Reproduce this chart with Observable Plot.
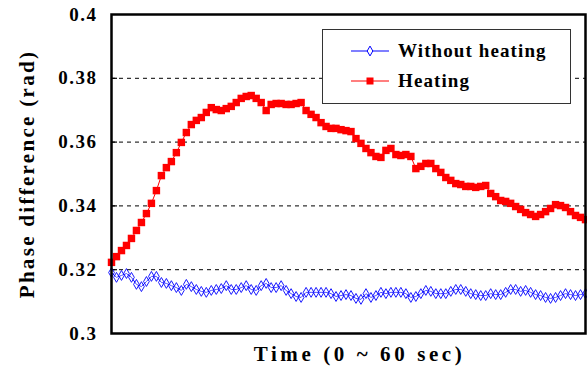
<!DOCTYPE html>
<html>
<head>
<meta charset="utf-8">
<script src="https://cdn.jsdelivr.net/npm/d3@7"></script>
<script src="https://cdn.jsdelivr.net/npm/@observablehq/plot@0.6"></script>
<style>
  body { margin: 0; background: #fff; }
  #wrap { position: relative; width: 587px; height: 376px; font-family: "Liberation Serif", "Times New Roman", serif; }
  #legend { position: absolute; left: 322px; top: 29px; width: 247px; height: 73px; border: 1.5px solid #333; background: #fff; box-sizing: content-box; }
  .item { position: absolute; left: 0; height: 24px; display: flex; align-items: center; }
  .item svg { margin-left: 26px; }
  .item span { margin-left: 7px; font-weight: bold; font-size: 19px; letter-spacing: 1.1px; color: #000; }
</style>
</head>
<body>
<div id="wrap">
  <div id="chart"></div>
  <div id="legend">
    <div class="item" style="top:9px"><svg width="42" height="12" id="sw1"></svg><span>Without heating</span></div>
    <div class="item" style="top:39px"><svg width="42" height="12" id="sw2"></svg><span>Heating</span></div>
  </div>
</div>
<script>
// Series (sampled evenly over 0–60 s)
const seriesNames = ["Without heating", "Heating"];
const seriesColors = ["#0000ff", "#ff0000"];
const withoutHeating = [
  0.3191, 0.3176, 0.3182, 0.3188, 0.3176, 0.3154, 0.3147, 0.3163, 0.3179, 0.3179,
  0.3160, 0.3157, 0.3150, 0.3144, 0.3135, 0.3154, 0.3147, 0.3138, 0.3132, 0.3129,
  0.3135, 0.3138, 0.3141, 0.3150, 0.3138, 0.3138, 0.3144, 0.3150, 0.3138, 0.3135,
  0.3150, 0.3157, 0.3144, 0.3144, 0.3150, 0.3135, 0.3125, 0.3116, 0.3113, 0.3129,
  0.3129, 0.3129, 0.3129, 0.3129, 0.3125, 0.3116, 0.3119, 0.3122, 0.3119, 0.3110,
  0.3107, 0.3125, 0.3113, 0.3119, 0.3129, 0.3125, 0.3129, 0.3129, 0.3129, 0.3125,
  0.3113, 0.3116, 0.3125, 0.3135, 0.3132, 0.3125, 0.3125, 0.3125, 0.3132, 0.3138,
  0.3138, 0.3132, 0.3125, 0.3122, 0.3119, 0.3119, 0.3125, 0.3122, 0.3122, 0.3129,
  0.3138, 0.3138, 0.3132, 0.3135, 0.3129, 0.3122, 0.3119, 0.3113, 0.3110, 0.3113,
  0.3119, 0.3125, 0.3122, 0.3119, 0.3122, 0.3125
];
const heating = [
  0.3223, 0.3241, 0.3260, 0.3276, 0.3298, 0.3323, 0.3348, 0.3376, 0.3408, 0.3448,
  0.3495, 0.3520, 0.3539, 0.3567, 0.3599, 0.3630, 0.3655, 0.3668, 0.3677, 0.3693,
  0.3708, 0.3702, 0.3699, 0.3705, 0.3712, 0.3724, 0.3737, 0.3743, 0.3746, 0.3737,
  0.3724, 0.3699, 0.3718, 0.3721, 0.3721, 0.3718, 0.3718, 0.3721, 0.3724, 0.3699,
  0.3687, 0.3677, 0.3661, 0.3649, 0.3643, 0.3643, 0.3639, 0.3636, 0.3633, 0.3611,
  0.3596, 0.3580, 0.3567, 0.3555, 0.3552, 0.3574, 0.3580, 0.3561, 0.3558, 0.3561,
  0.3555, 0.3517, 0.3524, 0.3533, 0.3533, 0.3517, 0.3505, 0.3489, 0.3480, 0.3470,
  0.3467, 0.3461, 0.3461, 0.3458, 0.3461, 0.3464, 0.3439, 0.3429, 0.3417, 0.3414,
  0.3408, 0.3398, 0.3389, 0.3379, 0.3373, 0.3367, 0.3373, 0.3382, 0.3392, 0.3404,
  0.3401, 0.3395, 0.3382, 0.3370, 0.3364, 0.3357
];
const yTicks = [0.3, 0.32, 0.34, 0.36, 0.38, 0.4];
const gridTicks = [0.32, 0.34, 0.36, 0.38];
const yTickLabels = ["0.3", "0.32", "0.34", "0.36", "0.38", "0.4"];
const yTitle = "Phase difference (rad)";
const xTitle = "Time (0 ~ 60 sec)";

const n = Math.max(withoutHeating.length, heating.length);
const font = "'Liberation Serif', 'Times New Roman', serif";

const chart = Plot.plot({
  width: 587,
  height: 376,
  marginLeft: 111,
  marginRight: 2,
  marginTop: 14,
  marginBottom: 43,
  style: { fontFamily: font, fontWeight: "bold", fontSize: "19px", background: "#fff", color: "#000" },
  x: { type: "linear", domain: [0, n - 1], axis: null },
  y: { domain: [0.3, 0.4], axis: null },
  marks: [
    Plot.ruleY(gridTicks, { stroke: "#000", strokeWidth: 1, strokeDasharray: "4,4" }),
    Plot.axisY(yTicks, {
      tickSize: 0, tickPadding: 14,
      tickFormat: (d, i) => yTickLabels[i],
      fontSize: 19, fontWeight: "bold", label: null
    }),
    Plot.axisY(gridTicks, { tickSize: -6, tickFormat: null, text: null, stroke: "#000", strokeWidth: 1.2, label: null }),
    Plot.lineY(withoutHeating, { x: (d, i) => i, y: d => d, stroke: seriesColors[0], strokeWidth: 1 }),
    Plot.dot(withoutHeating, { x: (d, i) => i, y: d => d, symbol: "diamond", r: 3, stroke: seriesColors[0], strokeWidth: 0.9, fill: "#fff", fillOpacity: 0.3 }),
    Plot.lineY(heating, { x: (d, i) => i, y: d => d, stroke: seriesColors[1], strokeWidth: 1 }),
    Plot.dot(heating, { x: (d, i) => i, y: d => d, symbol: "square", r: 4.2, fill: seriesColors[1], stroke: "none" }),
    Plot.frame({ stroke: "#000", strokeWidth: 2.5 }),
    Plot.text([yTitle], { frameAnchor: "left", textAnchor: "middle", rotate: -90, dx: -84, fontSize: 21, fontWeight: "bold", fill: "#000", className: "ttl-y" }),
    Plot.text([xTitle], { frameAnchor: "bottom", textAnchor: "middle", dx: 11, dy: 27, fontSize: 21, fontWeight: "bold", fill: "#000", className: "ttl-x" })
  ]
});
document.getElementById("chart").appendChild(chart);

// letter spacing for the serif labels (the reference is set wide)
d3.select(chart).selectAll(".ttl-y text").style("letter-spacing", "2.3px");
d3.select(chart).selectAll(".ttl-x text").style("letter-spacing", "3.6px");
d3.select(chart).selectAll("g[aria-label='y-axis tick label'] text").style("letter-spacing", "1.5px");

// Legend swatches
function swatch(id, color, type) {
  const s = d3.select(id);
  s.append("line").attr("x1", 2).attr("x2", 40).attr("y1", 6).attr("y2", 6).attr("stroke", color).attr("stroke-width", 1.2);
  if (type === "square") {
    s.append("rect").attr("x", 17.5).attr("y", 2.5).attr("width", 7).attr("height", 7).attr("fill", color);
  } else {
    s.append("path").attr("d", d3.symbol(d3.symbolDiamond, 28)()).attr("transform", "translate(21,6)")
      .attr("fill", "#fff").attr("stroke", color).attr("stroke-width", 1);
  }
}
swatch("#sw1", seriesColors[0], "diamond");
swatch("#sw2", seriesColors[1], "square");
</script>
</body>
</html>
